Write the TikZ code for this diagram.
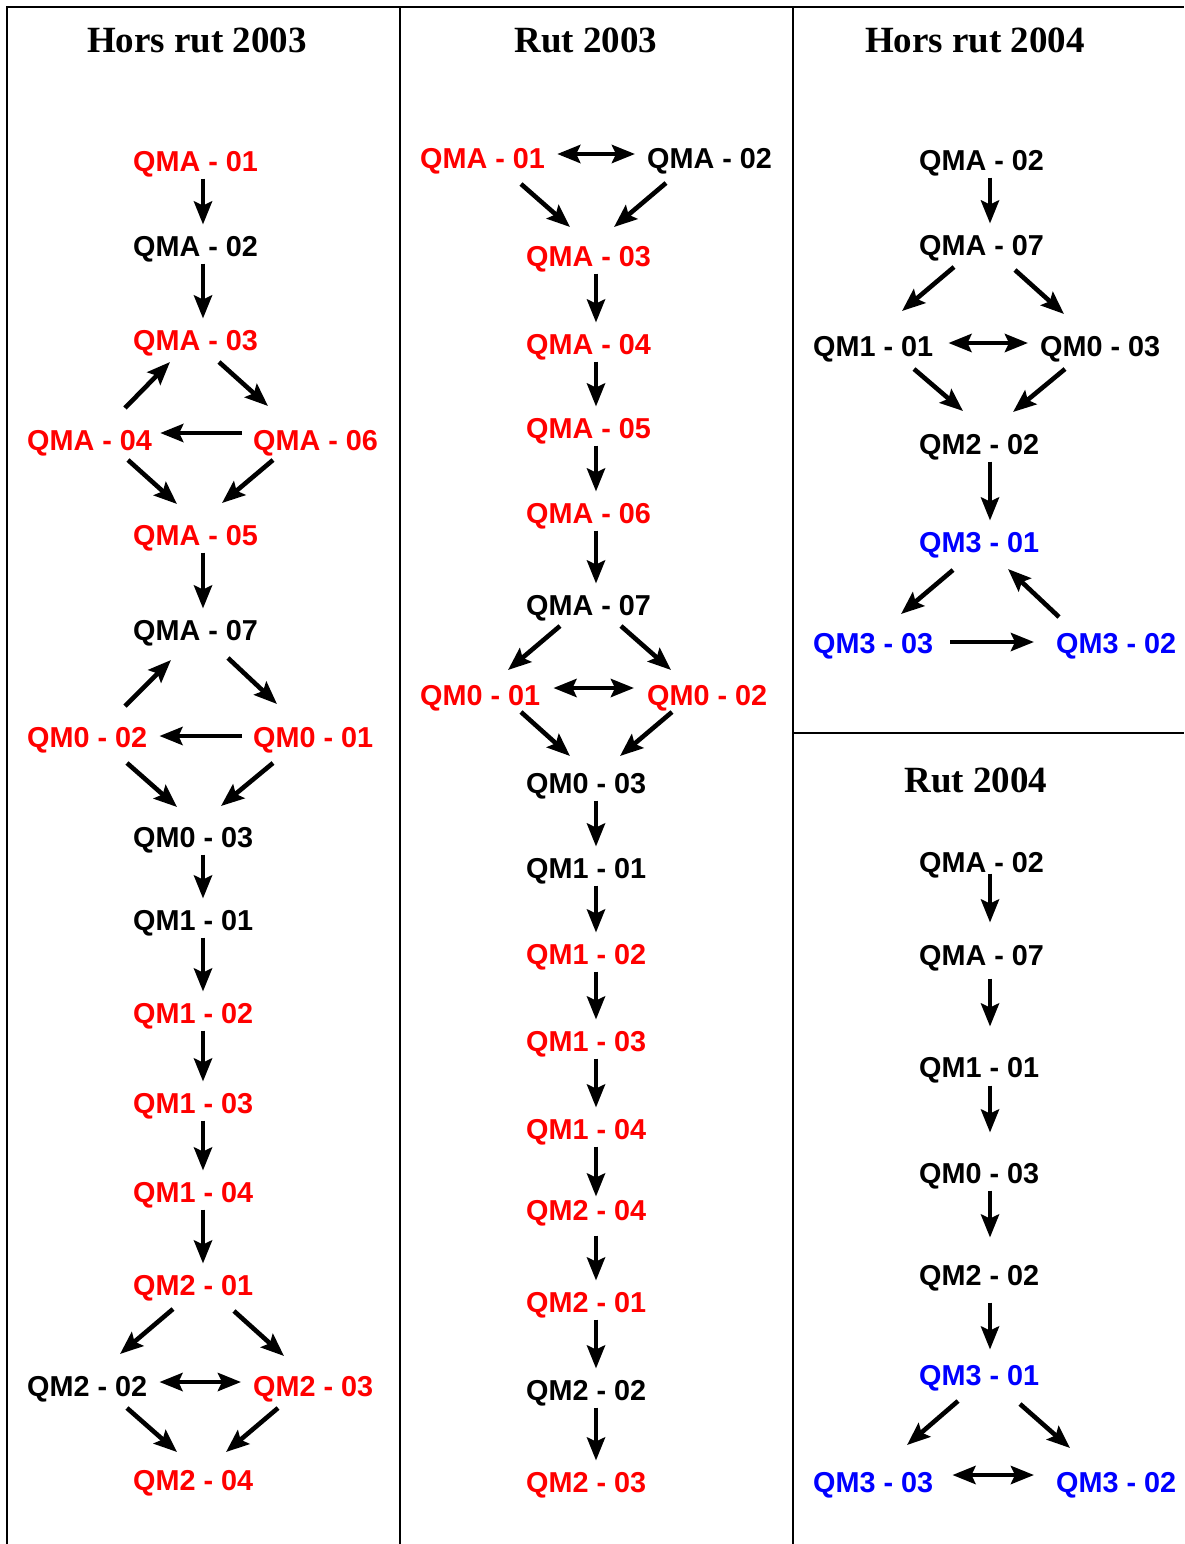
\documentclass[tikz,border=0pt]{standalone}
\usepackage{fontspec}
\newfontfamily\labelfont{Liberation Sans}
\newfontfamily\titlefont{Liberation Serif}
\usetikzlibrary{arrows.meta}

\begin{document}
\begin{tikzpicture}
      [x=1pt, y=-1pt,
       lbl/.style={font=\labelfont\bfseries\fontsize{28.8pt}{30pt}\selectfont, anchor=west, inner sep=0pt, text height=20.6pt, text depth=0pt},
       hot/.style={lbl, text=red},
       cold/.style={lbl, text=black},
       qm3/.style={lbl, text=blue},
       head/.style={font=\titlefont\bfseries\fontsize{37pt}{40pt}\selectfont, anchor=base, inner sep=0pt},
       flow/.style={line width=4.6pt, -{Stealth[length=23pt, width=18pt, inset=4pt]}},
       dual/.style={line width=4.6pt, {Stealth[length=23pt, width=18pt, inset=4pt]}-{Stealth[length=23pt, width=18pt, inset=4pt]}},
       down/.style={flow, shorten <=7pt, shorten >=11pt},
       side/.style={shorten <=12pt, shorten >=12pt},
       frame/.style={line width=2pt}]
      \useasboundingbox (0,0) rectangle (1184,1544);

      % table lines
      \draw[frame] (7,1544) -- (7,7) -- (1184,7);
      \draw[frame] (400,7) -- (400,1544);
      \draw[frame] (793,7) -- (793,1544);
      \draw[frame] (793,733) -- (1184,733);

      \node[head] (t1) at (197,53) {Hors rut 2003};
      \node[head] (t2) at (586,53) {Rut 2003};
      \node[head] (t3) at (975,53) {Hors rut 2004};
      \node[head] (t4) at (976,792) {Rut 2004};

      % Hors rut 2003
      \node[hot]  (h3a01) at (133,161) {QMA - 01};
      \node[cold] (h3a02) at (133,246) {QMA - 02};
      \node[hot]  (h3a03) at (133,340) {QMA - 03};
      \node[hot]  (h3a04) at (27,440) {QMA - 04};
      \node[hot]  (h3a06) at (253,440) {QMA - 06};
      \node[hot]  (h3a05) at (133,535) {QMA - 05};
      \node[cold] (h3a07) at (133,630) {QMA - 07};
      \node[hot]  (h3m002) at (27,737) {QM0 - 02};
      \node[hot]  (h3m001) at (253,737) {QM0 - 01};
      \node[cold] (h3m003) at (133,837) {QM0 - 03};
      \node[cold] (h3m101) at (133,920) {QM1 - 01};
      \node[hot]  (h3m102) at (133,1013) {QM1 - 02};
      \node[hot]  (h3m103) at (133,1103) {QM1 - 03};
      \node[hot]  (h3m104) at (133,1192) {QM1 - 04};
      \node[hot]  (h3m201) at (133,1285) {QM2 - 01};
      \node[cold] (h3m202) at (27,1386) {QM2 - 02};
      \node[hot]  (h3m203) at (253,1386) {QM2 - 03};
      \node[hot]  (h3m204) at (133,1480) {QM2 - 04};

      \draw[down] ([xshift=70pt]h3a01.south west) -- ([xshift=70pt]h3a02.north west);
      \draw[down] ([xshift=70pt]h3a02.south west) -- ([xshift=70pt]h3a03.north west);
      \draw[flow] ([shift={(98,-32)}]h3a04.west) -- ([shift={(37,22)}]h3a03.west);
      \draw[flow] ([shift={(86,22)}]h3a03.west) -- ([shift={(15,-34)}]h3a06.west);
      \draw[flow, shorten <=11pt, shorten >=8pt] ([yshift=7pt]h3a06.west) -- ([yshift=7pt]h3a04.east);
      \draw[flow] ([shift={(101,20)}]h3a04.west) -- ([shift={(44,-31)}]h3a05.west);
      \draw[flow] ([shift={(20,20)}]h3a06.west) -- ([shift={(89,-32)}]h3a05.west);
      \draw[down] ([xshift=70pt]h3a05.south west) -- ([xshift=70pt]h3a07.north west);
      \draw[flow] ([shift={(98,-31)}]h3m002.west) -- ([shift={(38,30)}]h3a07.west);
      \draw[flow] ([shift={(95,28)}]h3a07.west) -- ([shift={(24,-33)}]h3m001.west);
      \draw[flow, shorten <=11pt, shorten >=12pt] ([yshift=1pt]h3m001.west) -- ([yshift=1pt]h3m002.east);
      \draw[flow] ([shift={(100,26)}]h3m002.west) -- ([shift={(44,-30)}]h3m003.west);
      \draw[flow] ([shift={(20,26)}]h3m001.west) -- ([shift={(88,-31)}]h3m003.west);
      \draw[down] ([xshift=70pt]h3m003.south west) -- ([xshift=70pt]h3m101.north west);
      \draw[down] ([xshift=70pt]h3m101.south west) -- ([xshift=70pt]h3m102.north west);
      \draw[down] ([xshift=70pt]h3m102.south west) -- ([xshift=70pt]h3m103.north west);
      \draw[down] ([xshift=70pt]h3m103.south west) -- ([xshift=70pt]h3m104.north west);
      \draw[down] ([xshift=70pt]h3m104.south west) -- ([xshift=70pt]h3m201.north west);
      \draw[flow] ([shift={(40,24)}]h3m201.west) -- ([shift={(93,-32)}]h3m202.west);
      \draw[flow] ([shift={(101,26)}]h3m201.west) -- ([shift={(31,-30)}]h3m203.west);
      \draw[dual, side] ([yshift=4pt]h3m202.east) -- ([yshift=4pt]h3m203.west);
      \draw[flow] ([shift={(100,22)}]h3m202.west) -- ([shift={(44,-28)}]h3m204.west);
      \draw[flow] ([shift={(25,22)}]h3m203.west) -- ([shift={(93,-28)}]h3m204.west);

      % Rut 2003
      \node[hot]  (r3a01) at (420,158) {QMA - 01};
      \node[cold] (r3a02) at (647,158) {QMA - 02};
      \node[hot]  (r3a03) at (526,256) {QMA - 03};
      \node[hot]  (r3a04) at (526,344) {QMA - 04};
      \node[hot]  (r3a05) at (526,428) {QMA - 05};
      \node[hot]  (r3a06) at (526,513) {QMA - 06};
      \node[cold] (r3a07) at (526,605) {QMA - 07};
      \node[hot]  (r3m001) at (420,695) {QM0 - 01};
      \node[hot]  (r3m002) at (647,695) {QM0 - 02};
      \node[cold] (r3m003) at (526,783) {QM0 - 03};
      \node[cold] (r3m101) at (526,868) {QM1 - 01};
      \node[hot]  (r3m102) at (526,954) {QM1 - 02};
      \node[hot]  (r3m103) at (526,1041) {QM1 - 03};
      \node[hot]  (r3m104) at (526,1129) {QM1 - 04};
      \node[hot]  (r3m204) at (526,1210) {QM2 - 04};
      \node[hot]  (r3m201) at (526,1302) {QM2 - 01};
      \node[cold] (r3m202) at (526,1390) {QM2 - 02};
      \node[hot]  (r3m203) at (526,1482) {QM2 - 03};

      \draw[dual, side] ([yshift=4pt]r3a01.east) -- ([yshift=4pt]r3a02.west);
      \draw[flow] ([shift={(101,26)}]r3a01.west) -- ([shift={(44,-29)}]r3a03.west);
      \draw[flow] ([shift={(19,25)}]r3a02.west) -- ([shift={(88,-29)}]r3a03.west);
      \draw[down] ([xshift=70pt]r3a03.south west) -- ([xshift=70pt]r3a04.north west);
      \draw[down] ([xshift=70pt]r3a04.south west) -- ([xshift=70pt]r3a05.north west);
      \draw[down] ([xshift=70pt]r3a05.south west) -- ([xshift=70pt]r3a06.north west);
      \draw[down] ([xshift=70pt]r3a06.south west) -- ([xshift=70pt]r3a07.north west);
      \draw[flow] ([shift={(34,21)}]r3a07.west) -- ([shift={(88,-25)}]r3m001.west);
      \draw[flow] ([shift={(95,21)}]r3a07.west) -- ([shift={(24,-25)}]r3m002.west);
      \draw[dual, shorten <=13pt, shorten >=13pt] ([yshift=7pt]r3m001.east) -- ([yshift=7pt]r3m002.west);
      \draw[flow] ([shift={(101,17)}]r3m001.west) -- ([shift={(44,-27)}]r3m003.west);
      \draw[flow] ([shift={(25,17)}]r3m002.west) -- ([shift={(94,-27)}]r3m003.west);
      \draw[down] ([xshift=70pt]r3m003.south west) -- ([xshift=70pt]r3m101.north west);
      \draw[down] ([xshift=70pt]r3m101.south west) -- ([xshift=70pt]r3m102.north west);
      \draw[down] ([xshift=70pt]r3m102.south west) -- ([xshift=70pt]r3m103.north west);
      \draw[down] ([xshift=70pt]r3m103.south west) -- ([xshift=70pt]r3m104.north west);
      \draw[down, shorten >=3pt] ([xshift=70pt]r3m104.south west) -- ([xshift=70pt]r3m204.north west);
      \draw[down, shorten <=15pt] ([xshift=70pt]r3m204.south west) -- ([xshift=70pt]r3m201.north west);
      \draw[down] ([xshift=70pt]r3m201.south west) -- ([xshift=70pt]r3m202.north west);
      \draw[down] ([xshift=70pt]r3m202.south west) -- ([xshift=70pt]r3m203.north west);

      % Hors rut 2004
      \node[cold] (h4a02) at (919,160) {QMA - 02};
      \node[cold] (h4a07) at (919,245) {QMA - 07};
      \node[cold] (h4m101) at (813,346) {QM1 - 01};
      \node[cold] (h4m003) at (1040,346) {QM0 - 03};
      \node[cold] (h4m202) at (919,444) {QM2 - 02};
      \node[qm3]  (h4m301) at (919,542) {QM3 - 01};
      \node[qm3]  (h4m303) at (813,643) {QM3 - 03};
      \node[qm3]  (h4m302) at (1056,643) {QM3 - 02};

      \draw[down] ([xshift=71pt]h4a02.south west) -- ([xshift=71pt]h4a07.north west);
      \draw[flow] ([shift={(35,22)}]h4a07.west) -- ([shift={(89,-35)}]h4m101.west);
      \draw[flow] ([shift={(96,25)}]h4a07.west) -- ([shift={(24,-32)}]h4m003.west);
      \draw[dual, shorten <=15pt, shorten >=12pt] ([yshift=3pt]h4m101.east) -- ([yshift=3pt]h4m003.west);
      \draw[flow] ([shift={(101,23)}]h4m101.west) -- ([shift={(44,-33)}]h4m202.west);
      \draw[flow] ([shift={(25,23)}]h4m003.west) -- ([shift={(94,-32)}]h4m202.west);
      \draw[down] ([xshift=71pt]h4m202.south west) -- ([xshift=71pt]h4m301.north west);
      \draw[flow] ([shift={(34,28)}]h4m301.west) -- ([shift={(88,-29)}]h4m303.west);
      \draw[flow] ([shift={(3,-26)}]h4m302.west) -- ([shift={(89,27)}]h4m301.west);
      \draw[flow, shorten <=17pt, shorten >=22pt] ([yshift=1pt]h4m303.east) -- ([yshift=1pt]h4m302.west);

      % Rut 2004
      \node[cold] (r4a02) at (919,862) {QMA - 02};
      \node[cold] (r4a07) at (919,955) {QMA - 07};
      \node[cold] (r4m101) at (919,1067) {QM1 - 01};
      \node[cold] (r4m003) at (919,1173) {QM0 - 03};
      \node[cold] (r4m202) at (919,1275) {QM2 - 02};
      \node[qm3]  (r4m301) at (919,1375) {QM3 - 01};
      \node[qm3]  (r4m303) at (813,1482) {QM3 - 03};
      \node[qm3]  (r4m302) at (1056,1482) {QM3 - 02};

      \draw[flow, shorten <=1pt, shorten >=22pt] ([xshift=71pt]r4a02.south west) -- ([xshift=71pt]r4a07.north west);
      \draw[flow, shorten <=13pt, shorten >=30pt] ([xshift=71pt]r4a07.south west) -- ([xshift=71pt]r4m101.north west);
      \draw[flow, shorten <=8pt, shorten >=30pt] ([xshift=71pt]r4m101.south west) -- ([xshift=71pt]r4m003.north west);
      \draw[flow, shorten <=7pt, shorten >=27pt] ([xshift=71pt]r4m003.south west) -- ([xshift=71pt]r4m202.north west);
      \draw[flow, shorten <=17pt, shorten >=15pt] ([xshift=71pt]r4m202.south west) -- ([xshift=71pt]r4m301.north west);
      \draw[flow] ([shift={(39,26)}]r4m301.west) -- ([shift={(94,-37)}]r4m303.west);
      \draw[flow] ([shift={(101,29)}]r4m301.west) -- ([shift={(14,-34)}]r4m302.west);
      \draw[dual, shorten <=19pt, shorten >=22pt] ([yshift=7pt]r4m303.east) -- ([yshift=7pt]r4m302.west);
\end{tikzpicture}
\end{document}
